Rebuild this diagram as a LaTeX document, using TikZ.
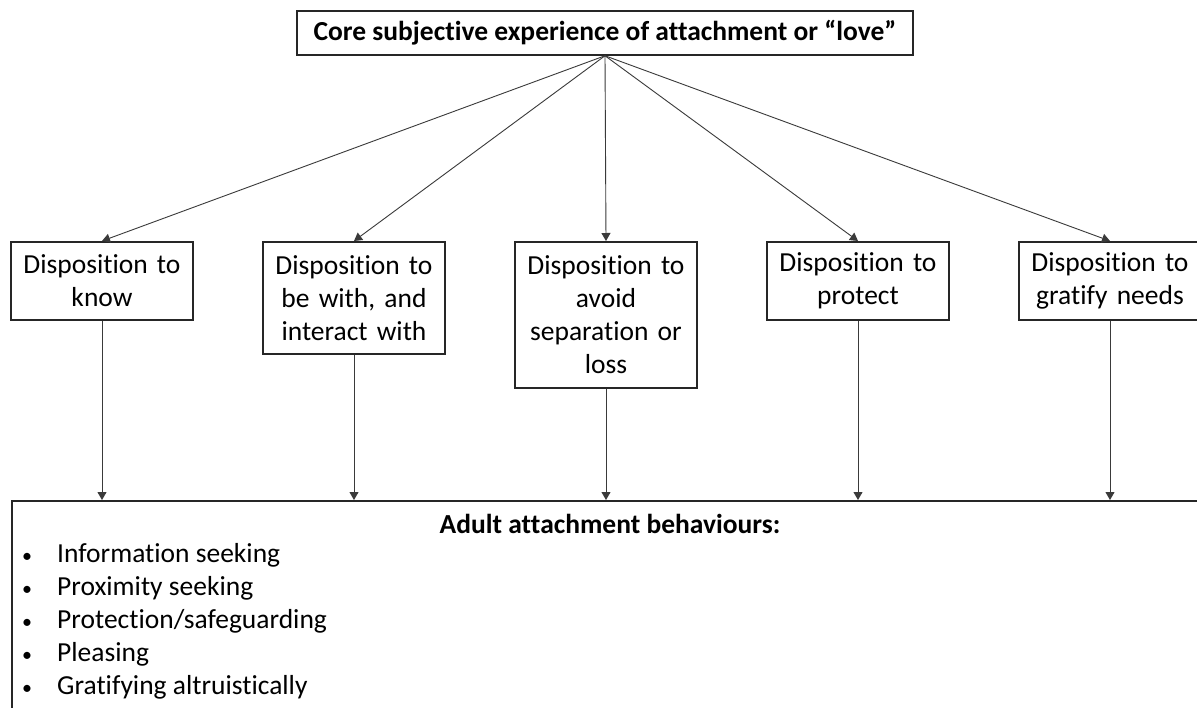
\documentclass[tikz,border=0pt]{standalone}
\usepackage{fontspec}
\setmainfont{Carlito}[RawFeature=-liga]
\usetikzlibrary{arrows.meta}
\definecolor{boxline}{HTML}{262626}
\definecolor{arrline}{HTML}{3A3A3A}
\begin{document}
\begin{tikzpicture}[x=1pt,y=-1pt,
  txt/.style={font=\fontsize{27.5}{33}\selectfont},
  boldtxt/.style={font=\fontsize{27.5}{33}\selectfont\bfseries},
  mainbox/.style={draw=boxline,line width=1.5pt,fill=white,inner sep=0pt},
  dispbox/.style={mainbox,txt,anchor=north,minimum width=182pt,text width=180pt,align=center},
  arr/.style={draw=arrline,line width=0.9pt,-{Triangle[width=9pt,length=8pt]}}]
\useasboundingbox (0,0) rectangle (1197,707);
\clip (0,0) rectangle (1197,707);
\fill[white] (0,0) rectangle (1197,707);

% top concept
\node[mainbox,boldtxt,minimum width=616pt,minimum height=44pt]
  (core) at (605,33) {Core subjective experience of attachment or “love”};

% five dispositions
\node[dispbox,minimum height=78pt]  (know)    at (102,241) {Disposition to\\know};
\node[dispbox,minimum height=112pt] (bewith)  at (354,241) {Disposition to\\be with, and\\interact with};
\node[dispbox,minimum height=146pt] (avoid)   at (606,241) {Disposition to\\avoid\\separation or\\loss};
\node[dispbox,minimum height=78pt]  (protect) at (858,241) {Disposition to\\protect};
\node[dispbox,minimum height=78pt]  (gratify) at (1110,241) {Disposition to\\gratify needs};

% behaviours box
\node[mainbox,anchor=north west,minimum width=1220pt,minimum height=240pt] (adult) at (11,500) {};
\node[boldtxt,anchor=center] (adulthead) at (610,524) {Adult attachment behaviours:};
\node[txt,anchor=north west,align=left,inner sep=0pt] (adultlist) at (22,543)
  {\makebox[35pt][l]{\fontsize{20}{20}\selectfont\textbullet}Information seeking\\
   \makebox[35pt][l]{\fontsize{20}{20}\selectfont\textbullet}Proximity seeking\\
   \makebox[35pt][l]{\fontsize{20}{20}\selectfont\textbullet}Protection/safeguarding\\
   \makebox[35pt][l]{\fontsize{20}{20}\selectfont\textbullet}Pleasing\\
   \makebox[35pt][l]{\fontsize{20}{20}\selectfont\textbullet}Gratifying altruistically};

% connectors
\foreach \d in {know,bewith,avoid,protect,gratify}{
  \draw[arr] (core.south) -- (\d.north);
  \draw[arr] (\d.south) -- (\d.south |- adult.north);
}
\end{tikzpicture}
\end{document}
